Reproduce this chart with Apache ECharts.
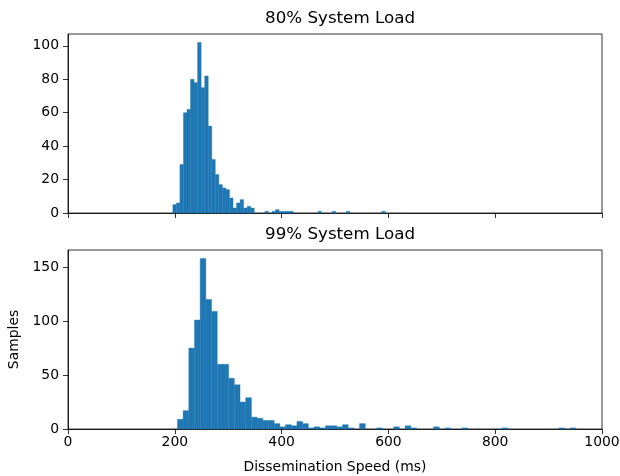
<!DOCTYPE html>
<html>
<head>
<meta charset="utf-8">
<script src="https://cdn.jsdelivr.net/npm/echarts@6/dist/echarts.min.js"></script>
<style>
  html, body { margin: 0; padding: 0; background: #fff; }
  #chart { width: 620px; height: 476px; }
</style>
</head>
<body>
<div id="chart"></div>
<script>
// Histogram of dissemination speed (ms) under two load levels.
const panelTitles = ['80% System Load', '99% System Load'];
const xLabel = 'Dissemination Speed (ms)';
const yLabel = 'Samples';

// 80% load: 60 bins starting at 196.3 ms, each 6.63 ms wide
const load80BinStart = 196.3;
const load80BinWidth = 6.63;
const load80Counts = [
  5, 6, 29, 60, 62, 80, 78, 102, 75, 82,
  52, 32, 23, 17, 15, 14, 9, 3, 6, 8,
  3, 4, 3, 0, 0, 0, 1, 0, 1, 2,
  1, 1, 1, 1, 0, 0, 0, 0, 0, 0,
  0, 1, 0, 0, 0, 1, 0, 0, 0, 1,
  0, 0, 0, 0, 0, 0, 0, 0, 0, 1
];

// 99% load: 70 bins starting at 204.9 ms, each 10.66 ms wide
const load99BinStart = 204.9;
const load99BinWidth = 10.66;
const load99Counts = [
  9, 17, 75, 101, 158, 120, 109, 60, 60, 47,
  41, 25, 29, 11, 10, 8, 8, 5, 2, 4,
  3, 7, 5, 1, 2, 1, 3, 3, 2, 4,
  1, 0, 5, 0, 0, 1, 0, 0, 2, 0,
  3, 1, 0, 0, 0, 2, 0, 1, 0, 0,
  1, 0, 0, 0, 0, 0, 0, 1, 0, 0,
  0, 0, 0, 0, 0, 0, 0, 1, 0, 1
];

const xTicks = [0, 200, 400, 600, 800, 1000];
const load80YTicks = [0, 20, 40, 60, 80, 100];
const load99YTicks = [0, 50, 100, 150];

function toBins(start, width, counts) {
  return counts.map((c, i) => [start + i * width, start + (i + 1) * width, c]);
}

const FONT = 'DejaVu Sans';
const BAR = '#1f77b4';
const TICK_SIZE = 13.9;
const plain = v => String(v);

function renderBin(params, api) {
  if (api.value(2) <= 0) return null;
  const lo = api.coord([api.value(0), 0]);
  const hi = api.coord([api.value(1), api.value(2)]);
  return {
    type: 'rect',
    shape: { x: lo[0], y: hi[1], width: hi[0] - lo[0], height: lo[1] - hi[1] },
    style: { fill: BAR, stroke: BAR, lineWidth: 0.4 }
  };
}

function xAxisCfg(gridIndex, showLabels) {
  const cfg = {
    type: 'value', gridIndex: gridIndex,
    min: 0, max: 1000, interval: 200,
    axisLine: { show: true, onZero: false, lineStyle: { color: '#000', width: 0.8 } },
    axisTick: { show: true, inside: false, length: 5, lineStyle: { color: '#000', width: 0.8 } },
    axisLabel: { show: showLabels, margin: 6, color: '#000', fontFamily: FONT, fontSize: TICK_SIZE,
                 customValues: xTicks, formatter: plain },
    splitLine: { show: false }
  };
  if (showLabels) {
    cfg.name = xLabel;
    cfg.nameLocation = 'middle';
    cfg.nameGap = 31;
    cfg.nameTextStyle = { color: '#000', fontFamily: FONT, fontSize: TICK_SIZE };
  }
  return cfg;
}

function yAxisCfg(gridIndex, max, ticks, name) {
  const cfg = {
    type: 'value', gridIndex: gridIndex,
    min: 0, max: max,
    axisLine: { show: true, lineStyle: { color: '#000', width: 0.8 } },
    axisTick: { show: true, inside: false, length: 5, lineStyle: { color: '#000', width: 0.8 },
                customValues: ticks },
    axisLabel: { show: true, margin: 9, color: '#000', fontFamily: FONT, fontSize: TICK_SIZE,
                 customValues: ticks, formatter: plain },
    splitLine: { show: false }
  };
  if (name) {
    cfg.name = name;
    cfg.nameLocation = 'middle';
    cfg.nameGap = 45;
    cfg.nameRotate = 90;
    cfg.nameTextStyle = { color: '#000', fontFamily: FONT, fontSize: TICK_SIZE };
  }
  return cfg;
}

const load80Max = Math.max(...load80Counts) * 1.05;
const load99Max = Math.max(...load99Counts) * 1.05;

const gridBase = { left: 68, right: 18, height: 179, show: true, borderColor: '#000', borderWidth: 0.8,
                   backgroundColor: 'transparent', containLabel: false, outerBoundsMode: 'none' };

const chart = echarts.init(document.getElementById('chart'), null, { renderer: 'canvas' });
chart.setOption({
  animation: false,
  backgroundColor: '#fff',
  title: [
    { text: panelTitles[0], left: 335, top: 5, textAlign: 'center',
      textStyle: { color: '#000', fontFamily: FONT, fontSize: 16.7, fontWeight: 'normal' } },
    { text: panelTitles[1], left: 335, top: 221, textAlign: 'center',
      textStyle: { color: '#000', fontFamily: FONT, fontSize: 16.7, fontWeight: 'normal' } }
  ],
  grid: [
    Object.assign({ top: 34 }, gridBase),
    Object.assign({ top: 250 }, gridBase)
  ],
  xAxis: [xAxisCfg(0, false), xAxisCfg(1, true)],
  yAxis: [
    yAxisCfg(0, load80Max, load80YTicks, null),
    yAxisCfg(1, load99Max, load99YTicks, yLabel)
  ],
  series: [
    { type: 'custom', xAxisIndex: 0, yAxisIndex: 0, renderItem: renderBin,
      encode: { x: [0, 1], y: 2 }, data: toBins(load80BinStart, load80BinWidth, load80Counts) },
    { type: 'custom', xAxisIndex: 1, yAxisIndex: 1, renderItem: renderBin,
      encode: { x: [0, 1], y: 2 }, data: toBins(load99BinStart, load99BinWidth, load99Counts) }
  ]
});
</script>
</body>
</html>
